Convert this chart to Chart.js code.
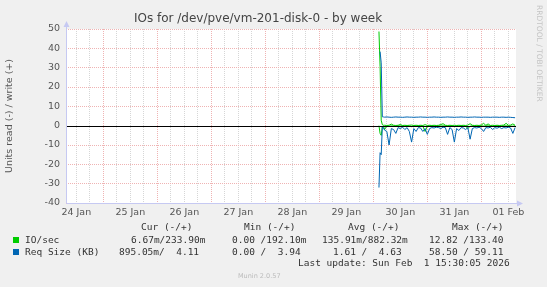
<!DOCTYPE html>
<html>
<head>
<meta charset="utf-8">
<script src="https://cdn.jsdelivr.net/npm/chart.js@4.4.1/dist/chart.umd.min.js"></script>
<style>
  html, body { margin: 0; padding: 0; background: #f0f0f0; }
  #wrap { position: relative; width: 547px; height: 287px; overflow: hidden; }
  #chart { position: absolute; left: 0; top: 0; }
  .lg { position: absolute; font: 9.5px 'DejaVu Sans Mono', monospace; color: #333; white-space: pre; line-height: 12px; }
  .box { position: absolute; width: 6px; height: 6px; }
  .ver { position: absolute; font: 6.5px 'DejaVu Sans', sans-serif; color: #bbb; line-height: 8px; white-space: pre; }
</style>
</head>
<body>
<div id="wrap">
  <canvas id="chart" width="547" height="287"></canvas>

  <div class="lg" style="left:141px; top:221px">Cur (-/+)</div>
  <div class="lg" style="left:244px; top:221px">Min (-/+)</div>
  <div class="lg" style="left:348px; top:221px">Avg (-/+)</div>
  <div class="lg" style="left:452px; top:221px">Max (-/+)</div>

  <div class="box" style="left:13px; top:237px; background:#00cc00"></div>
  <div class="lg" style="left:25px; top:234px">IO/sec</div>
  <div class="lg" style="left:131px; top:234px">6.67m/233.90m</div>
  <div class="lg" style="left:232px; top:234px">0.00 /192.10m</div>
  <div class="lg" style="left:322px; top:234px">135.91m/882.32m</div>
  <div class="lg" style="left:429px; top:234px">12.82 /133.40</div>

  <div class="box" style="left:13px; top:249px; background:#0066b3"></div>
  <div class="lg" style="left:25px; top:246px">Req Size (KB)</div>
  <div class="lg" style="left:119px; top:246px">895.05m/  4.11</div>
  <div class="lg" style="left:232px; top:246px">0.00 /  3.94</div>
  <div class="lg" style="left:333px; top:246px">1.61 /  4.63</div>
  <div class="lg" style="left:429px; top:246px">58.50 / 59.11</div>

  <div class="lg" style="left:298px; top:257px">Last update: Sun Feb  1 15:30:05 2026</div>
  <div class="ver" style="left:238px; top:272px">Munin 2.0.57</div>
</div>

<script>
// --- datos del gráfico ---
const titleText = 'IOs for /dev/pve/vm-201-disk-0 - by week';
const yTitle = 'Units read (-) / write (+)';

// horas desde el 24 Jan 00:00
const hours = [146.5, 147, 147.5, 148, 148.5,
  149, 150, 151, 152, 153, 154, 155, 156, 157, 158,
  159, 160, 161, 162, 163, 164, 165, 166, 167, 168,
  169, 170, 171, 172, 173, 174, 175, 176, 177, 178,
  179, 180, 181, 182, 183, 184, 185, 186, 187, 188,
  189, 190, 191, 192, 193, 194, 195, 196, 197, 198,
  199, 200, 201, 202, 203, 204, 205, 206, 207];

// IO/sec escritura (+)
const ioWrite = [48.7, 30.6, 2.8, 0.5, 0.2,
  0.2, 0.1, 0.2, 0.8, 0.2, 0.1, 0.2, 0.6, 0.1, 0.2,
  0.1, 0.2, 0.3, 0.1, 0.2, 0.1, 0.2, 0.1, 0.5, 0.1,
  0.2, 0.1, 0.2, 0.1, 0.2, 0.6, 1.0, 0.2, 0.1, 0.2,
  0.1, 0.2, 0.1, 0.2, 0.1, 0.2, 0.1, 0.3, 1.0, 0.2,
  0.1, 0.2, 0.1, 0.4, 1.2, 0.2, 0.9, 0.1, 0.2, 0.1,
  0.2, 0.1, 0.2, 0.3, 1.2, 0.2, 0.3, 0.9, 0.2];

// IO/sec lectura (-)
const ioRead = [0, -4, -5, -0.5, -0.2,
  -2, -0.2, -0.3, -0.1, -0.2, -0.3, -0.1, -0.2, -0.1, -0.2,
  -0.1, -0.2, -0.5, -0.1, -0.2, -0.1, -0.1, -0.2, -3, -0.3,
  -0.1, -0.1, -0.2, -0.1, -0.1, -0.2, -0.1, -0.1, -0.3, -0.1,
  -0.1, -0.5, -0.1, -0.2, -0.1, -0.1, -0.2, -1.5, -0.3, -0.1,
  -0.1, -0.2, -0.1, -0.1, -0.2, -0.1, -0.1, -0.1, -0.2, -0.1,
  -0.1, -0.1, -0.2, -0.1, -0.1, -0.1, -0.2, -0.3, -0.1];

// Req Size (KB) escritura (+)
const sizeWrite = [null, 38.3, 32.5, 4.6, 4.5,
  4.4, 4.5, 4.4, 4.3, 4.4, 4.5, 4.4, 4.4, 4.3, 4.4,
  4.5, 4.4, 4.4, 4.3, 4.4, 4.4, 4.5, 4.4, 4.4, 4.3,
  4.4, 4.4, 4.5, 4.4, 4.4, 4.3, 4.4, 4.4, 4.5, 4.4,
  4.4, 4.3, 4.4, 4.4, 4.5, 4.4, 4.4, 4.3, 4.4, 4.4,
  4.5, 4.4, 4.4, 4.3, 4.4, 4.4, 4.4, 4.3, 4.4, 4.4,
  4.4, 4.3, 4.4, 4.4, 4.3, 4.4, 4.3, 4.2, 4.1];

// Req Size (KB) lectura (-)
const sizeRead = [-32, -14, -15, -0.5, -1.2,
  -2.3, -3, -10, -1.5, -2, -4, -1, -1.5, -0.8, -2,
  -1, -3, -8.5, -1.5, -3, -1, -1.2, -3, -1.5, -4.5,
  -1.5, -1, -1.2, -0.8, -1, -1.5, -0.8, -1, -4.5, -1,
  -2, -8.5, -1.5, -2.5, -1, -1.2, -2, -1, -7, -1.5,
  -1, -1.2, -0.8, -1.5, -3, -1, -1.2, -0.8, -2, -1,
  -1.3, -0.8, -1.5, -1, -1.2, -0.8, -1.2, -4, -1];

const dayLabels = ['24 Jan', '25 Jan', '26 Jan', '27 Jan', '28 Jan', '29 Jan', '30 Jan', '31 Jan', '01 Feb'];
const yTicks = [-40, -35, -30, -25, -20, -15, -10, -5, 0, 5, 10, 15, 20, 25, 30, 35, 40, 45, 50];
// rejilla cada 6 horas, etiqueta a mediodía
const xTicks = Array.from({ length: 33 }, (_, i) => 12 + i * 6);

const RED = '#efb3b3';
const GRAY = '#d6d6d6';
const AXIS = '#c6c9f2';
const GREEN = '#00cc00';
const BLUE = '#0066b3';

function pts(vals) {
    return hours.map((h, i) => ({ x: h, y: vals[i] }));
}

// fondo blanco, línea cero, ejes con flecha y texto RRDTOOL
const muninDeco = {
    id: 'muninDeco',
    beforeDraw(chart) {
        const { ctx, chartArea: a } = chart;
        ctx.save();
        ctx.fillStyle = '#ffffff';
        ctx.fillRect(a.left, a.top, a.right - a.left, a.bottom - a.top);
        ctx.restore();
    },
    afterDatasetsDraw(chart) {
        const { ctx, chartArea: a, scales } = chart;
        const y0 = Math.round(scales.y.getPixelForValue(0)) + 0.5;
        ctx.save();
        // linea del cero encima de los datos, como en munin
        ctx.strokeStyle = '#000';
        ctx.lineWidth = 1;
        ctx.beginPath();
        ctx.moveTo(a.left, y0);
        ctx.lineTo(a.right, y0);
        ctx.stroke();

        const lx = Math.round(a.left) + 0.5;
        const by = Math.round(a.bottom) + 0.5;
        ctx.strokeStyle = AXIS;
        ctx.fillStyle = AXIS;
        ctx.beginPath();
        ctx.moveTo(lx, by);
        ctx.lineTo(lx, a.top - 4);
        ctx.moveTo(lx, by);
        ctx.lineTo(a.right + 4, by);
        ctx.stroke();
        ctx.beginPath();
        ctx.moveTo(lx, a.top - 8);
        ctx.lineTo(lx - 3, a.top - 2);
        ctx.lineTo(lx + 3, a.top - 2);
        ctx.closePath();
        ctx.fill();
        ctx.beginPath();
        ctx.moveTo(a.right + 7, by);
        ctx.lineTo(a.right + 1, by - 3);
        ctx.lineTo(a.right + 1, by + 3);
        ctx.closePath();
        ctx.fill();

        ctx.translate(539, 5);
        ctx.rotate(Math.PI / 2);
        ctx.font = '7.5px "DejaVu Sans"';
        ctx.fillStyle = '#c4c4c4';
        ctx.textAlign = 'left';
        ctx.textBaseline = 'middle';
        ctx.fillText('RRDTOOL / TOBI OETIKER', 0, 0);
        ctx.restore();
    }
};

const tickFont = { family: 'DejaVu Sans', size: 9.5 };

new Chart(document.getElementById('chart'), {
    type: 'line',
    data: {
        datasets: [
            { data: pts(ioWrite), borderColor: GREEN, order: 2 },
            { data: pts(ioRead), borderColor: GREEN, order: 2 },
            { data: pts(sizeWrite), borderColor: BLUE, order: 1 },
            { data: pts(sizeRead), borderColor: BLUE, order: 1 }
        ]
    },
    options: {
        responsive: false,
        animation: false,
        events: [],
        elements: {
            line: { borderWidth: 1, tension: 0, fill: false },
            point: { radius: 0 }
        },
        layout: { padding: { top: 0, right: 31, bottom: 0, left: 0 } },
        plugins: {
            legend: { display: false },
            tooltip: { enabled: false },
            title: {
                display: true,
                text: titleText,
                color: '#444',
                font: { family: 'DejaVu Sans', size: 12, weight: 'normal' },
                padding: { top: 12, bottom: 2.6 }
            }
        },
        scales: {
            x: {
                type: 'linear',
                min: 7.42,
                max: 207.4,
                afterBuildTicks: s => { s.ticks = xTicks.map(v => ({ value: v })); },
                afterFit: s => { s.height = 84; },
                grid: {
                    color: c => (c.tick.value % 24 === 0 ? RED : GRAY),
                    drawTicks: false,
                    lineWidth: 1
                },
                border: { display: false, dash: [1, 1] },
                ticks: {
                    autoSkip: false,
                    maxRotation: 0,
                    padding: 4,
                    color: '#555',
                    font: tickFont,
                    callback: v => (v % 24 === 12 ? dayLabels[(v - 12) / 24] : '')
                }
            },
            y: {
                min: -40,
                max: 50,
                afterBuildTicks: s => { s.ticks = yTicks.map(v => ({ value: v })); },
                afterFit: s => { s.width = 66; },
                grid: {
                    color: c => (c.tick.value === 0 ? 'rgba(0,0,0,0)' : (c.tick.value % 10 === 0 ? RED : GRAY)),
                    drawTicks: false,
                    lineWidth: 1
                },
                border: { display: false, dash: [1, 1] },
                ticks: {
                    padding: 6,
                    color: '#555',
                    font: tickFont,
                    callback: v => (v % 10 === 0 ? String(v) : '')
                },
                title: {
                    display: true,
                    text: yTitle,
                    color: '#555',
                    font: { family: 'DejaVu Sans', size: 9.5 },
                    padding: { top: 4, bottom: 0 }
                }
            }
        }
    },
    plugins: [muninDeco]
});
</script>
</body>
</html>
